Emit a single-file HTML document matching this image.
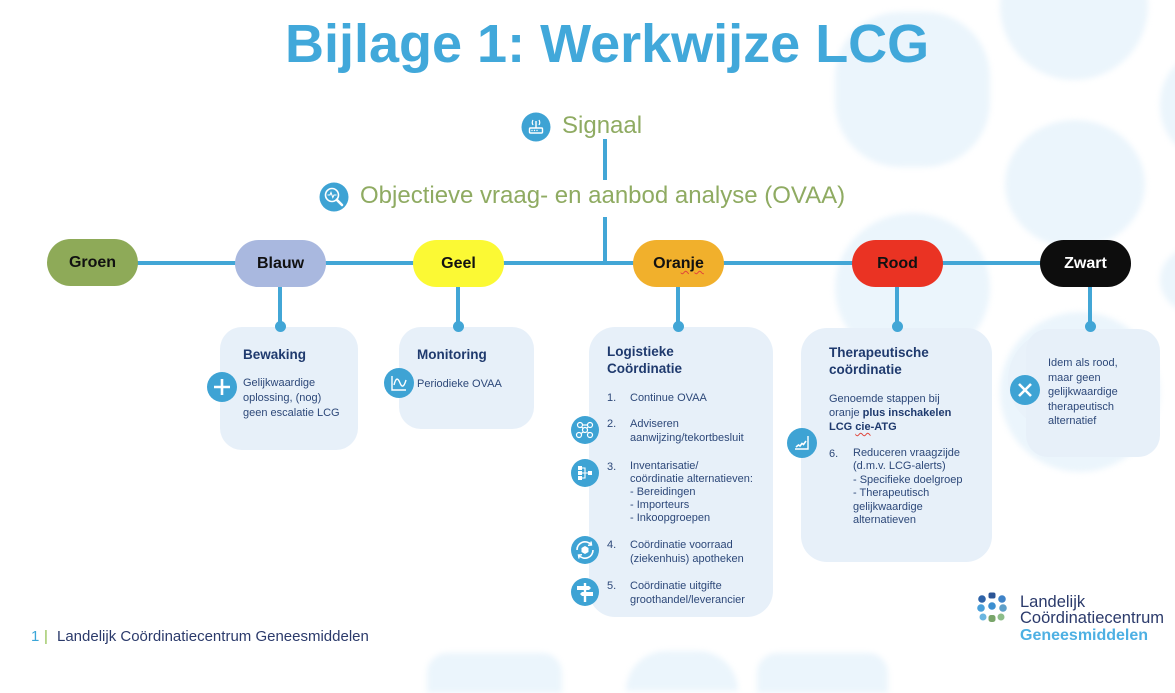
<!DOCTYPE html>
<html><head><meta charset="utf-8">
<style>
*{margin:0;padding:0;box-sizing:border-box}
body{width:1175px;height:662px;overflow:hidden;background:#fff;position:relative;font-family:"Liberation Sans",sans-serif}
.a{position:absolute;white-space:nowrap}
.blob{position:absolute;background:#ebf5fc;border-radius:50%;filter:blur(3px)}
.hl{position:absolute;background:#42a6d6}
.pill{position:absolute;height:47px;width:91px;border-radius:24px;font-weight:bold;font-size:16px;line-height:47px;text-align:center;color:#111}
.dot{position:absolute;width:11px;height:11px;border-radius:50%;background:#42a6d6}
.box{position:absolute;background:#e7f0f9;border-radius:22px}
.h{position:absolute;font-weight:bold;font-size:13.5px;line-height:17px;color:#1f3a6e;white-space:nowrap}
.t{position:absolute;font-size:11px;line-height:14px;color:#2d4879;white-space:nowrap}
.ic{position:absolute}
.sq{text-decoration:underline wavy #e0443a;text-decoration-thickness:1px;text-underline-offset:2px}
</style></head><body>

<!-- background blobs -->
<div class="blob" style="left:1000px;top:-68px;width:148px;height:148px"></div>
<div class="blob" style="left:835px;top:12px;width:155px;height:155px;border-radius:42%"></div>
<div class="blob" style="left:1005px;top:120px;width:140px;height:128px"></div>
<div class="blob" style="left:1160px;top:55px;width:80px;height:100px"></div>
<div class="blob" style="left:1160px;top:245px;width:80px;height:70px"></div>
<div class="blob" style="left:835px;top:213px;width:155px;height:150px"></div>
<div class="blob" style="left:1000px;top:312px;width:160px;height:160px"></div>
<div class="blob" style="left:427px;top:653px;width:135px;height:40px;border-radius:20px 20px 0 0"></div>
<div class="blob" style="left:626px;top:651px;width:112px;height:40px;border-radius:50px 50px 0 0"></div>
<div class="blob" style="left:757px;top:653px;width:131px;height:40px;border-radius:20px 20px 0 0"></div>

<!-- title -->
<div class="a" style="left:285px;top:17px;font-size:54px;line-height:54px;font-weight:bold;color:#41a8da">Bijlage 1: Werkwijze LCG</div>

<!-- signaal -->
<svg class="ic" style="left:521px;top:112px" width="30" height="30" viewBox="0 0 30 30">
<circle cx="15" cy="15" r="14.5" fill="#3ea3d4"/>
<rect x="8.5" y="16" width="13" height="5" rx="1" fill="none" stroke="#fff" stroke-width="1.4"/>
<line x1="15" y1="16" x2="15" y2="9" stroke="#fff" stroke-width="1.4"/>
<path d="M12 8 Q10.5 10.5 12 13 M18 8 Q19.5 10.5 18 13" fill="none" stroke="#fff" stroke-width="1.2"/>
<circle cx="11" cy="18.5" r="0.7" fill="#fff"/><circle cx="13.5" cy="18.5" r="0.7" fill="#fff"/><circle cx="16" cy="18.5" r="0.7" fill="#fff"/>
</svg>
<div class="a" style="left:562px;top:114px;font-size:24px;line-height:24px;color:#8fab62">Signaal</div>

<div class="hl" style="left:603px;top:139px;width:4px;height:41px"></div>

<!-- OVAA -->
<svg class="ic" style="left:319px;top:182px" width="30" height="30" viewBox="0 0 30 30">
<circle cx="15" cy="15" r="14.5" fill="#3ea3d4"/>
<circle cx="13" cy="13" r="6.5" fill="none" stroke="#fff" stroke-width="1.6"/>
<line x1="17.8" y1="17.8" x2="23" y2="23" stroke="#fff" stroke-width="2.6" stroke-linecap="round"/>
<path d="M8.5 13 H11 L12 10.5 L13.8 15.5 L15 13 H17.5" fill="none" stroke="#fff" stroke-width="1.1"/>
</svg>
<div class="a" style="left:360px;top:184px;font-size:24px;line-height:24px;color:#8fab62">Objectieve vraag- en aanbod analyse (OVAA)</div>

<div class="hl" style="left:603px;top:217px;width:4px;height:47px"></div>

<!-- main horizontal line -->
<div class="hl" style="left:135px;top:261px;width:910px;height:4px"></div>

<!-- vertical connectors -->
<div class="hl" style="left:278px;top:285px;width:4px;height:41px"></div>
<div class="hl" style="left:456px;top:285px;width:4px;height:41px"></div>
<div class="hl" style="left:676px;top:285px;width:4px;height:41px"></div>
<div class="hl" style="left:895px;top:285px;width:4px;height:41px"></div>
<div class="hl" style="left:1088px;top:285px;width:4px;height:41px"></div>

<!-- pills -->
<div class="pill" style="left:47px;top:239px;background:#8eaa58">Groen</div>
<div class="pill" style="left:235px;top:240px;background:#a9b8df">Blauw</div>
<div class="pill" style="left:413px;top:240px;background:#fbf934">Geel</div>
<div class="pill" style="left:633px;top:240px;background:#f1b02c">Ora<span class="sq">nje</span></div>
<div class="pill" style="left:852px;top:240px;background:#ea3323">Rood</div>
<div class="pill" style="left:1040px;top:240px;background:#0d0d0d;color:#fff">Zwart</div>

<!-- boxes -->
<div class="box" style="left:220px;top:327px;width:138px;height:123px"></div>
<div class="box" style="left:399px;top:327px;width:135px;height:102px"></div>
<div class="box" style="left:589px;top:327px;width:184px;height:290px;border-radius:26px"></div>
<div class="box" style="left:801px;top:328px;width:191px;height:234px;border-radius:26px"></div>
<div class="box" style="left:1008px;top:330px;width:100px;height:100px;border-radius:50%;background:#e9f2fa"></div>
<div class="box" style="left:1026px;top:329px;width:134px;height:128px"></div>

<!-- dots -->
<div class="dot" style="left:274.5px;top:320.5px"></div>
<div class="dot" style="left:452.5px;top:320.5px"></div>
<div class="dot" style="left:672.5px;top:320.5px"></div>
<div class="dot" style="left:891.5px;top:320.5px"></div>
<div class="dot" style="left:1084.5px;top:320.5px"></div>

<!-- Bewaking -->
<div class="h" style="left:243px;top:346px">Bewaking</div>
<div class="t" style="left:243px;top:376px;line-height:15px">Gelijkwaardige<br>oplossing, (nog)<br>geen escalatie LCG</div>
<svg class="ic" style="left:207px;top:372px" width="30" height="30" viewBox="0 0 30 30">
<circle cx="15" cy="15" r="15" fill="#3ea3d4"/>
<path d="M15 7 V23 M7 15 H23" stroke="#fff" stroke-width="2.6"/>
</svg>

<!-- Monitoring -->
<div class="h" style="left:417px;top:346px">Monitoring</div>
<div class="t" style="left:417px;top:377px">Periodieke OVAA</div>
<svg class="ic" style="left:384px;top:368px" width="30" height="30" viewBox="0 0 30 30">
<circle cx="15" cy="15" r="15" fill="#3ea3d4"/>
<path d="M8 8 V22 H22" fill="none" stroke="#fff" stroke-width="1.4"/>
<path d="M10 17 C12 9 14 10 16 15 S20 19 22 12" fill="none" stroke="#fff" stroke-width="1.4"/>
</svg>

<!-- Logistieke -->
<div class="h" style="left:607px;top:343px">Logistieke<br>Coördinatie</div>
<div class="t" style="left:607px;top:391px">1.</div>
<div class="t" style="left:630px;top:391px">Continue OVAA</div>
<div class="t" style="left:607px;top:417px">2.</div>
<div class="t" style="left:630px;top:417px">Adviseren<br>aanwijzing/tekortbesluit</div>
<div class="t" style="left:607px;top:460px">3.</div>
<div class="t" style="left:630px;top:460px;line-height:13px">Inventarisatie/<br>coördinatie alternatieven:<br>- Bereidingen<br>- Importeurs<br>- Inkoopgroepen</div>
<div class="t" style="left:607px;top:538px">4.</div>
<div class="t" style="left:630px;top:538px">Coördinatie voorraad<br>(ziekenhuis) apotheken</div>
<div class="t" style="left:607px;top:579px">5.</div>
<div class="t" style="left:630px;top:579px">Coördinatie uitgifte<br>groothandel/leverancier</div>

<svg class="ic" style="left:571px;top:416px" width="28" height="28" viewBox="0 0 28 28">
<circle cx="14" cy="14" r="14" fill="#3ea3d4"/>
<g fill="none" stroke="#fff" stroke-width="1.2">
<circle cx="9" cy="9" r="2.5"/><circle cx="19" cy="9" r="2.5"/><circle cx="14" cy="14" r="2.5"/><circle cx="8" cy="19" r="2.5"/><circle cx="19" cy="19" r="2.5"/>
<path d="M11.5 9 H16.5 M10.5 11 L12.5 12.5 M16.5 16 L17.5 17 M12.2 16 L10 17.5 M17 11 L15.5 12.5"/>
</g></svg>
<svg class="ic" style="left:571px;top:459px" width="28" height="28" viewBox="0 0 28 28">
<circle cx="14" cy="14" r="14" fill="#3ea3d4"/>
<g fill="#fff"><rect x="7" y="7" width="4" height="4"/><rect x="7" y="12" width="4" height="4"/><rect x="7" y="17" width="4" height="4"/><rect x="17" y="12" width="4" height="4"/></g>
<path d="M11 9 H14 V19 H11 M11 14 H17" fill="none" stroke="#fff" stroke-width="1.1"/>
</svg>
<svg class="ic" style="left:571px;top:536px" width="28" height="28" viewBox="0 0 28 28">
<circle cx="14" cy="14" r="14" fill="#3ea3d4"/>
<path d="M6 14 A8 8 0 0 1 20 8.5 M22 14 A8 8 0 0 1 8 19.5" fill="none" stroke="#fff" stroke-width="1.6"/>
<path d="M20 5.5 L20.5 9 L17 9.3 M8 22.5 L7.5 19 L11 18.7" fill="none" stroke="#fff" stroke-width="1.4"/>
<path d="M10.5 12 L14 10 L17.5 12 V16 L14 18 L10.5 16 Z" fill="#fff"/>
</svg>
<svg class="ic" style="left:571px;top:578px" width="28" height="28" viewBox="0 0 28 28">
<circle cx="14" cy="14" r="14" fill="#3ea3d4"/>
<rect x="12.8" y="5" width="2.4" height="19" fill="#fff"/>
<path d="M6 8 H18 L20 10 L18 12 H6 Z M22 14 H11 L9 16 L11 18 H22 Z" fill="#fff"/>
</svg>

<!-- Therapeutische -->
<div class="h" style="left:829px;top:344px">Therapeutische<br>coördinatie</div>
<div class="t" style="left:829px;top:392px">Genoemde stappen bij<br>oranje <b style="color:#1f3a6e">plus inschakelen</b><br><b style="color:#1f3a6e">LCG <span class="sq">cie</span>-ATG</b></div>
<div class="t" style="left:829px;top:447px">6.</div>
<div class="t" style="left:853px;top:447px;line-height:13.4px">Reduceren vraagzijde<br>(d.m.v. LCG-alerts)<br>- Specifieke doelgroep<br>- Therapeutisch<br>gelijkwaardige<br>alternatieven</div>
<svg class="ic" style="left:787px;top:428px" width="30" height="30" viewBox="0 0 30 30">
<circle cx="15" cy="15" r="15" fill="#3ea3d4"/>
<path d="M21 8 V21 H8" fill="none" stroke="#fff" stroke-width="1.4"/>
<path d="M9 19 L11.5 17 L13 18 L15 15.5 L16.5 16.5 L19 13" fill="none" stroke="#fff" stroke-width="1.6"/>
</svg>

<!-- Zwart -->
<div class="t" style="left:1048px;top:356px;line-height:14.5px">Idem als rood,<br>maar geen<br>gelijkwaardige<br>therapeutisch<br>alternatief</div>
<svg class="ic" style="left:1010px;top:375px" width="30" height="30" viewBox="0 0 30 30">
<circle cx="15" cy="15" r="15" fill="#3ea3d4"/>
<path d="M9 9 L21 21 M21 9 L9 21" stroke="#fff" stroke-width="2.6"/>
</svg>

<!-- footer -->
<div class="a" style="left:31px;top:629px;font-size:15px;line-height:16px;color:#3ba6d8">1</div>
<div class="a" style="left:44px;top:629px;font-size:15px;line-height:16px;color:#8fc04e">|</div>
<div class="a" style="left:57px;top:629px;font-size:15px;line-height:16px;color:#2b3a6b">Landelijk Coördinatiecentrum Geneesmiddelen</div>

<!-- logo -->
<svg class="ic" style="left:975px;top:591px" width="34" height="34" viewBox="0 0 34 34">
<circle cx="7" cy="8" r="3.8" fill="#2f63a8"/>
<rect x="13.5" y="1.5" width="7" height="6" rx="2" fill="#2c5596"/>
<circle cx="27" cy="8" r="3.8" fill="#3f83c8"/>
<circle cx="6" cy="17" r="3.8" fill="#4aa0da"/>
<circle cx="17" cy="15" r="3.8" fill="#3d8fd0"/>
<circle cx="28" cy="17" r="3.8" fill="#5e9fc9"/>
<circle cx="8" cy="26" r="3.5" fill="#6bb6e0"/>
<rect x="13.5" y="24" width="7" height="7" rx="2.5" fill="#79a56a"/>
<circle cx="26" cy="26" r="3.5" fill="#8dbd89"/>
</svg>
<div class="a" style="left:1020px;top:594px;font-size:16.5px;line-height:16px;color:#2b3a6b">Landelijk</div>
<div class="a" style="left:1020px;top:610px;font-size:16.5px;line-height:16px;color:#2b3a6b">Coördinatiecentrum</div>
<div class="a" style="left:1020px;top:628px;font-size:16px;line-height:16px;font-weight:bold;color:#4db0e3">Geneesmiddelen</div>

</body></html>
